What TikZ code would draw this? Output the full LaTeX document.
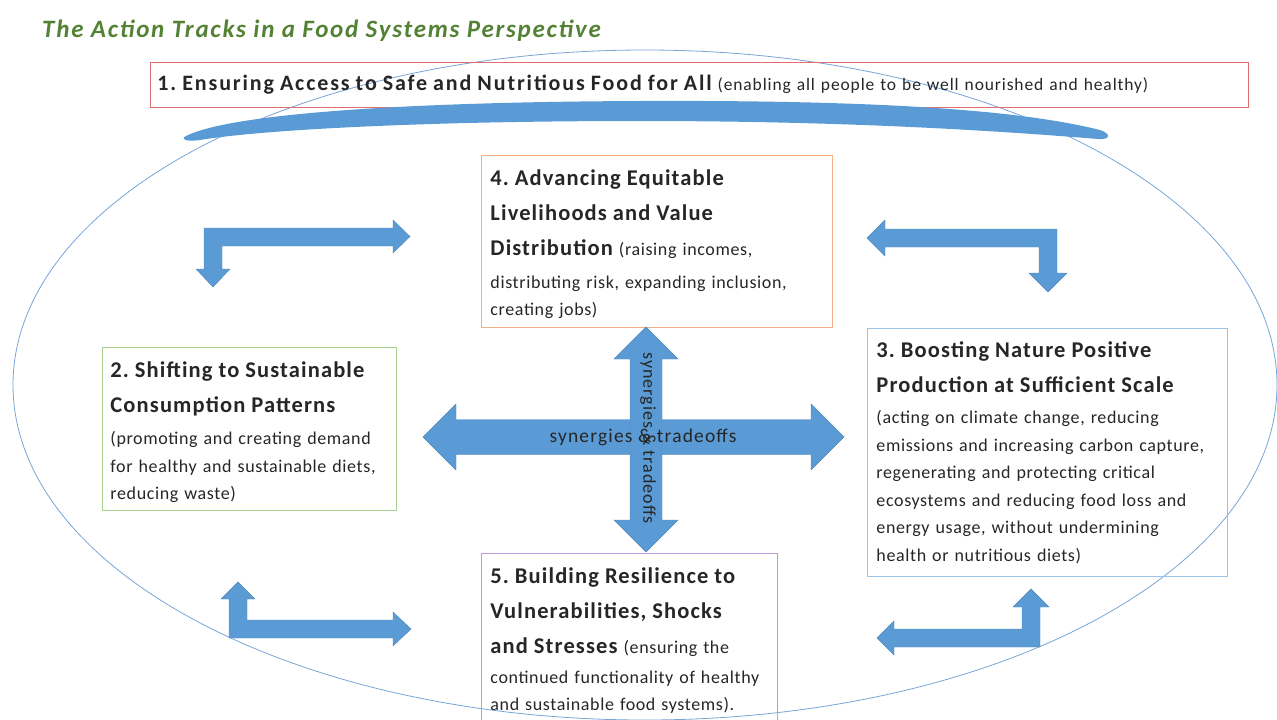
\documentclass[tikz,border=0pt]{standalone}
\usepackage{fontspec}
\setmainfont{Carlito}
\frenchspacing

\definecolor{arrowblue}{RGB}{91,155,213}
\definecolor{ringblue}{RGB}{120,165,215}
\definecolor{titlegreen}{RGB}{84,130,53}
\definecolor{boxred}{RGB}{225,110,110}
\definecolor{boxorange}{RGB}{244,177,131}
\definecolor{boxgreen}{RGB}{169,209,142}
\definecolor{boxblue}{RGB}{157,195,230}
\definecolor{boxpurple}{RGB}{185,155,220}

\newcommand\trackhead{\fontsize{22.5}{35}\selectfont\bfseries\addfontfeature{LetterSpace=5}}
\newcommand\trackbody{\fontsize{18}{27.5}\selectfont\addfontfeature{LetterSpace=3.5}}

\begin{document}
\begin{tikzpicture}[x=1pt,y=-1pt,
    track/.style ={draw, line width=0.9pt, anchor=north west, align=left, inner xsep=9pt, inner ysep=11pt,
                   text=black!85, font=\trackbody},
    blockarrow/.style ={fill=arrowblue, draw=arrowblue!85!black, line width=0.4pt}]
   \useasboundingbox (0,0) rectangle (1277,720);
   \draw[ringblue, line width=0.8pt] (645,385) ellipse [x radius=632, y radius=335];

   \node[anchor=west, inner sep=0pt, text=titlegreen, font=\fontsize{25}{28}\selectfont\bfseries\itshape\addfontfeature{LetterSpace=7}] (title) at (42,31) {The Action Tracks in a Food Systems Perspective};

   \node[track, draw=boxred, text width=1084pt, minimum height=45pt, inner xsep=7pt, inner ysep=0pt] (access) at (150,62)
     {{\fontsize{22}{25}\selectfont\bfseries\addfontfeature{LetterSpace=8.5}1. Ensuring Access to Safe and Nutritious Food for All} {\fontsize{17.5}{20}\selectfont\addfontfeature{LetterSpace=5}(enabling all people to be well nourished and healthy)}};

   % band under track 1
   \fill[arrowblue] (186,136) .. controls (230,114) and (400,102) .. (640,101)
     .. controls (880,100) and (1020,110) .. (1100,130) .. controls (1112,134) and (1110,140) .. (1098,139)
     .. controls (1000,131) and (850,121) .. (640,121) .. controls (420,121) and (260,130) .. (200,140)
     .. controls (185,142) and (180,139) .. (186,136);

   \node[track, draw=boxorange, text width=333pt, inner ysep=8pt] (livelihoods) at (481,155)
     {{\trackhead\rule{0pt}{22pt}4. Advancing Equitable}\\[7.5pt]
      {\trackhead Livelihoods and Value}\\[7.5pt]
      {\trackhead Distribution} (raising incomes,\\[5.5pt]
      distributing risk, expanding inclusion,\\
      creating jobs)};
   \node[track, draw=boxgreen, text width=278pt, inner xsep=8pt, inner ysep=7pt] (consumption) at (102,347)
     {{\trackhead\rule{0pt}{23pt}2. Shifting to Sustainable}\\[7.5pt]
      {\trackhead Consumption Patterns}\\[5pt]
      (promoting and creating demand\\
      for healthy and sustainable diets,\\
      reducing waste)};
   \node[track, draw=boxblue, text width=342pt, minimum height=248pt] (production) at (867,328)
     {{\trackhead 3. Boosting Nature Positive}\\[7.5pt]
      {\trackhead Production at Sufficient Scale}\\[4pt]
      (acting on climate change, reducing\\
      emissions and increasing carbon capture,\\
      regenerating and protecting critical\\
      ecosystems and reducing food loss and\\
      energy usage, without undermining\\
      health or nutritious diets)};
   \node[track, draw=boxpurple, text width=278pt, inner ysep=14pt] (resilience) at (481,553)
     {{\trackhead 5. Building Resilience to}\\[7.5pt]
      {\trackhead Vulnerabilities, Shocks}\\[7.5pt]
      {\trackhead and Stresses} (ensuring the\\[2.5pt]
      continued functionality of healthy\\
      and sustainable food systems).};

   % corner arrows
   \filldraw[blockarrow] (410,236.5) -- (393,220) -- (393,228) -- (204,228) -- (204,269) -- (196,269) -- (213,287)
     -- (230,269) -- (222,269) -- (222,246) -- (393,246) -- (393,253) -- cycle;
   \filldraw[blockarrow] (867,238) -- (885,220) -- (885,229) -- (1057,229) -- (1057,273) -- (1067,273) -- (1048,292)
     -- (1029,273) -- (1039,273) -- (1039,247) -- (885,247) -- (885,256) -- cycle;
   \filldraw[blockarrow] (238,582) -- (255,599) -- (247,599) -- (247,620) -- (393,620) -- (393,612) -- (411,629)
     -- (393,646) -- (393,638) -- (229,638) -- (229,599) -- (221,599) -- cycle;
   \filldraw[blockarrow] (877,638) -- (894,621) -- (894,629) -- (1022,629) -- (1022,607) -- (1013,607) -- (1031,589)
     -- (1049,607) -- (1040,607) -- (1040,647) -- (894,647) -- (894,655) -- cycle;

   % the cross
   \filldraw[blockarrow] (423,437) -- (456,404) -- (456,419.5) -- (811,419.5) -- (811,404) -- (844,437)
     -- (811,470) -- (811,454.5) -- (456,454.5) -- (456,470) -- cycle;
   \filldraw[blockarrow] (646,327) -- (678,359) -- (662,359) -- (662,520) -- (678,520) -- (646,552)
     -- (614,520) -- (630,520) -- (630,359) -- (614,359) -- cycle;
   \node[text=black!85, font=\fontsize{19.5}{22}\selectfont\addfontfeature{LetterSpace=6}] (synergiesh) at (643,437) {synergies \& tradeoffs};
   \node[rotate=-90, text=black!85, font=\fontsize{18}{20}\selectfont\addfontfeature{LetterSpace=5.5}] (synergiesv) at (648,438) {synergies \& tradeoffs};
 \end{tikzpicture}
\end{document}
